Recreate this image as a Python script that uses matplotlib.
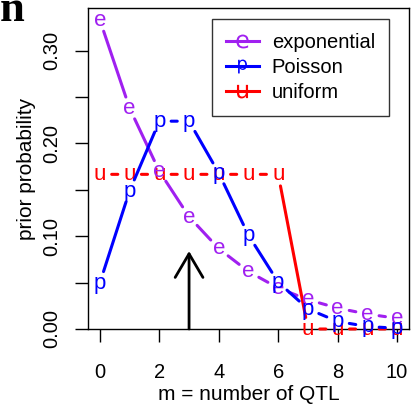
import matplotlib
matplotlib.use("Agg")
import matplotlib.pyplot as plt
from matplotlib.lines import Line2D

plt.rcParams['font.family'] = ['Liberation Sans', 'DejaVu Sans']

# %% Data
m = list(range(11))
p_exponential = [0.333, 0.238, 0.170, 0.121, 0.0866, 0.0619, 0.0442, 0.0316, 0.0225, 0.0161, 0.0115]
p_poisson = [0.0498, 0.149, 0.224, 0.224, 0.168, 0.101, 0.0504, 0.0216, 0.0081, 0.0027, 0.0008]
p_uniform = [0.1667, 0.1667, 0.1667, 0.1667, 0.1667, 0.1667, 0.1667, 0, 0, 0, 0]
prior_mean = 3
arrow_top = 0.084

series = [
    ("uniform", "u", "#FF0000", p_uniform),
    ("exponential", "e", "#A020F0", p_exponential),
    ("Poisson", "p", "#0000FF", p_poisson),
]

FS = 14.5     # ticks / legend
FS_LAB = 15   # axis labels
FS_PT = 16    # letters used as points
GAP = 8.5     # points of empty space around each letter (type="b" look)

# %% Figure
fig = plt.figure(figsize=(4.19, 4.05), dpi=100)
ax = fig.add_axes([88 / 419, 76 / 405, 321 / 419, 321 / 405])
ax.set_xlim(-0.4, 10.4)
ax.set_ylim(0, 0.346)

for name, ch, col, vals in series:
    # segments between letters, with gaps
    for i in range(len(m) - 1):
        ax.annotate("", xy=(m[i + 1], vals[i + 1]), xytext=(m[i], vals[i]),
                    arrowprops=dict(arrowstyle='-', color=col, lw=2.2,
                                    shrinkA=GAP, shrinkB=GAP))
    for x, y in zip(m, vals):
        t = ax.annotate(ch, (x, y), xytext=(0, -0.26 * FS_PT), textcoords='offset points',
                        ha='center', va='baseline', color=col, fontsize=FS_PT)
        t.set_clip_on(True)

# arrow at the prior mean
ax.annotate("", xy=(prior_mean, arrow_top), xytext=(prior_mean, 0),
            arrowprops=dict(arrowstyle='->,head_length=1.7,head_width=1.0',
                            mutation_scale=10, color='black', lw=2,
                            shrinkA=0, shrinkB=0))

# axes cosmetics, R style
ax.set_xticks([0, 2, 4, 6, 8, 10])
ax.set_yticks([0, 0.05, 0.10, 0.15, 0.20, 0.25, 0.30])
ax.set_yticklabels(["0.00", "", "0.10", "", "0.20", "", "0.30"],
                   rotation=90, va='center')
ax.tick_params(direction='out', length=9.5, width=1, labelsize=FS, pad=10)
ax.tick_params(axis='x', pad=15)
for s in ax.spines.values():
    s.set_linewidth(1)
ax.set_xlabel("m = number of QTL", fontsize=FS_LAB, labelpad=2)
ax.set_ylabel("prior probability", fontsize=FS_LAB, labelpad=4)

handles = [Line2D([], [], color=c, lw=2.2, marker=r'$\mathsf{%s}$' % ch,
                  markersize=10, markeredgewidth=0)
           for name, ch, c, v in [series[1], series[2], series[0]]]
labels = ["exponential", "Poisson", "uniform"]
leg = ax.legend(handles, labels, loc='upper right',
                bbox_to_anchor=(301 / 321, 310 / 321), borderaxespad=0,
                fontsize=FS, frameon=True, fancybox=False, edgecolor='black',
                handlelength=1.6, handletextpad=0.65, labelspacing=0.3,
                borderpad=0.7)
leg.get_frame().set_linewidth(1)

# panel letter, cut off at the top
fig.text(0.0, 1 - 21 / 405, "n", fontsize=32, fontweight='bold',
         family='Liberation Serif', ha='left', va='baseline')

fig.savefig("out.png", dpi=100)
